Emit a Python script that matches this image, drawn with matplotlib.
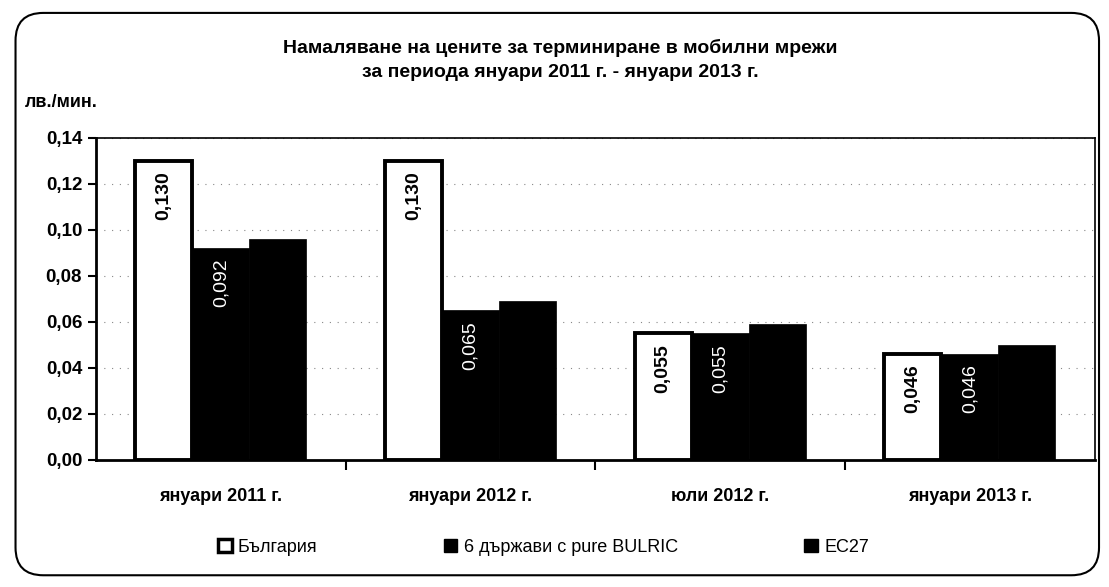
import matplotlib
matplotlib.use("Agg")
import matplotlib.pyplot as plt
from matplotlib.patches import FancyBboxPatch, Patch
import numpy as np

plt.rcParams['font.family'] = ['Liberation Sans', 'DejaVu Sans']

title = "Намаляване на цените за терминиране в мобилни мрежи\nза периода януари 2011 г. - януари 2013 г."
ylabel = "лв./мин."
categories = ["януари 2011 г.", "януари 2012 г.", "юли 2012 г.", "януари 2013 г."]
series_names = ["България", "6 държави с pure BULRIC", "ЕС27"]
bulgaria = [0.130, 0.130, 0.055, 0.046]
bulric = [0.092, 0.065, 0.055, 0.046]
ec27 = [0.096, 0.069, 0.059, 0.050]
yticks = [0.00, 0.02, 0.04, 0.06, 0.08, 0.10, 0.12, 0.14]

fig = plt.figure(figsize=(11.09, 5.87), dpi=100)
ax = fig.add_axes([0.0866, 0.2164, 0.9004, 0.5486])

x = np.arange(len(categories))
w = 0.228
ax.bar(x - w, bulgaria, w, color='white', edgecolor='black', linewidth=2.8, zorder=3)
ax.bar(x, bulric, w, color='black', edgecolor='black', linewidth=0.5, zorder=3)
ax.bar(x + w, ec27, w, color='black', edgecolor='black', linewidth=0.5, zorder=3)

def fmt(v):
    return f"{v:.3f}".replace('.', ',')

for xi, v in zip(x - w, bulgaria):
    ax.text(xi, v - 0.0045, fmt(v), rotation=90, ha='center', va='top',
            fontsize=14, fontweight='bold', color='black', zorder=4)
for xi, v in zip(x, bulric):
    ax.text(xi, v - 0.0045, fmt(v), rotation=90, ha='center', va='top',
            fontsize=14, color='white', zorder=4)

ax.set_xlim(-0.5, 3.5)
ax.set_ylim(0, 0.14)
ax.set_yticks(yticks)
ax.set_yticklabels([f"{t:.2f}".replace('.', ',') for t in yticks], fontsize=13.5, fontweight='bold')
ax.set_xticks(x)
ax.set_xticklabels(categories, fontsize=13, fontweight='bold')
ax.tick_params(axis='x', length=0, pad=20)
ax.set_xticks(np.arange(0.5, 3.5, 1.0), minor=True)
ax.tick_params(axis='x', which='minor', length=7, width=1.5, direction='out')
ax.tick_params(axis='y', length=6, width=1.5, direction='out', pad=4)

ax.grid(axis='y', color='#888888', linestyle=(0, (1, 6)), linewidth=0.8, zorder=0)
for s in ['left', 'bottom']:
    ax.spines[s].set_linewidth(2)
for s in ['top', 'right']:
    ax.spines[s].set_linewidth(1.2)

fig.text(0.505, 0.898, title, ha='center', va='center', fontsize=14,
         fontweight='bold', linespacing=1.5)
fig.text(0.022, 0.826, ylabel, ha='left', va='center', fontsize=13, fontweight='bold')

handles = [Patch(facecolor='white', edgecolor='black', linewidth=2.5),
           Patch(facecolor='black', edgecolor='black'),
           Patch(facecolor='black', edgecolor='black')]
fig.legend(handles, series_names, loc='center', bbox_to_anchor=(0.49, 0.067), ncol=3,
           frameon=False, fontsize=13, handlelength=0.75, handleheight=0.75,
           handletextpad=0.35, columnspacing=7.0)

border = FancyBboxPatch((0.014, 0.02), 0.977, 0.958, boxstyle="round,pad=0,rounding_size=0.025",
                        transform=fig.transFigure, facecolor='none', edgecolor='black',
                        linewidth=1.5, mutation_aspect=1109/587)
fig.patches.append(border)

fig.savefig("out.png", dpi=100)
